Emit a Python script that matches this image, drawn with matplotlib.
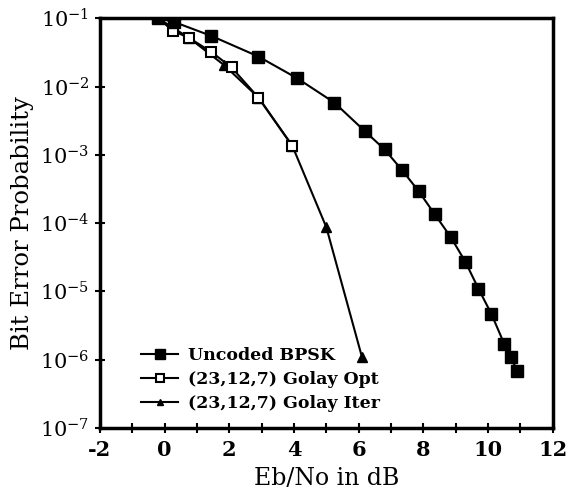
import math
import matplotlib
matplotlib.use("Agg")
import matplotlib.pyplot as plt
from matplotlib.ticker import FixedLocator, FuncFormatter

# data
bpsk_x = [-0.2, 0.3, 1.45, 2.9, 4.1, 5.25, 6.2, 6.8, 7.35, 7.85, 8.35, 8.85, 9.3, 9.7, 10.1, 10.5, 10.7, 10.9]
bpsk_y = [1.0e-1, 8.8e-2, 5.5e-2, 2.75e-2, 1.32e-2, 5.8e-3, 2.2e-3, 1.2e-3, 5.9e-4, 2.95e-4,
          1.35e-4, 6.2e-5, 2.7e-5, 1.1e-5, 4.7e-6, 1.7e-6, 1.1e-6, 6.8e-7]

opt_x = [-0.2, 0.25, 0.77, 1.45, 2.07, 2.9, 3.95]
opt_y = [1.0e-1, 6.6e-2, 5.1e-2, 3.2e-2, 1.9e-2, 6.9e-3, 1.35e-3]

iter_x = [-0.2, 0.77, 1.85, 2.9, 3.95, 5.0, 6.1]
iter_y = [1.0e-1, 5.1e-2, 2.04e-2, 6.9e-3, 1.35e-3, 8.7e-5, 1.1e-6]

x_ticks = [-2, 0, 2, 4, 6, 8, 10, 12]
y_ticks = [1e-7, 1e-6, 1e-5, 1e-4, 1e-3, 1e-2, 1e-1]

plt.rcParams["font.family"] = "DejaVu Serif"
plt.rcParams["mathtext.fontset"] = "dejavuserif"

fig = plt.figure(figsize=(5.74, 4.93), dpi=100)
ax = fig.add_axes([0.174, 0.132, 0.789, 0.831])

# iter first so the white opt squares sit on top of it
ax.plot(iter_x, iter_y, color="black", lw=1.5, marker="^", ms=6.5, mfc="black", mec="black",
        label="(23,12,7) Golay Iter", zorder=2)
ax.plot(opt_x, opt_y, color="black", lw=1.5, marker="s", ms=7.5, mfc="white", mec="black", mew=1.5,
        label="(23,12,7) Golay Opt", zorder=3)
ax.plot(bpsk_x, bpsk_y, color="black", lw=1.5, marker="s", ms=9, mfc="black", mec="black",
        label="Uncoded BPSK", zorder=4)

ax.set_yscale("log")
ax.set_xlim(-2, 12)
ax.set_ylim(1e-7, 1e-1)

ax.xaxis.set_major_locator(FixedLocator(range(-2, 13)))
ax.xaxis.set_major_formatter(FuncFormatter(lambda v, p: "%d" % v if v in x_ticks else ""))
ax.yaxis.set_major_locator(FixedLocator(y_ticks))
ax.yaxis.set_minor_locator(FixedLocator([]))
ax.yaxis.set_major_formatter(FuncFormatter(lambda v, p: r"$10^{%d}$" % round(math.log10(v))))

ax.tick_params(axis="both", direction="inout", length=7, width=1.5, colors="black")
ax.tick_params(axis="x", labelsize=15, pad=5)
ax.tick_params(axis="y", labelsize=15, pad=4)
for lab in ax.get_xticklabels():
    lab.set_fontweight("bold")

for sp in ax.spines.values():
    sp.set_linewidth(2.5)

ax.set_xlabel("Eb/No in dB", fontsize=17, labelpad=5)
ax.set_ylabel("Bit Error Probability", fontsize=17.5, labelpad=4)

h, l = ax.get_legend_handles_labels()
ax.legend(h[::-1], l[::-1], loc="lower left", bbox_to_anchor=(0.065, 0.01), frameon=False,
          prop={"weight": "bold", "size": 12.5}, handlelength=2.1, handletextpad=0.6,
          labelspacing=0.4, borderaxespad=0.3, markerscale=0.75)

fig.savefig("out.png", dpi=100)
